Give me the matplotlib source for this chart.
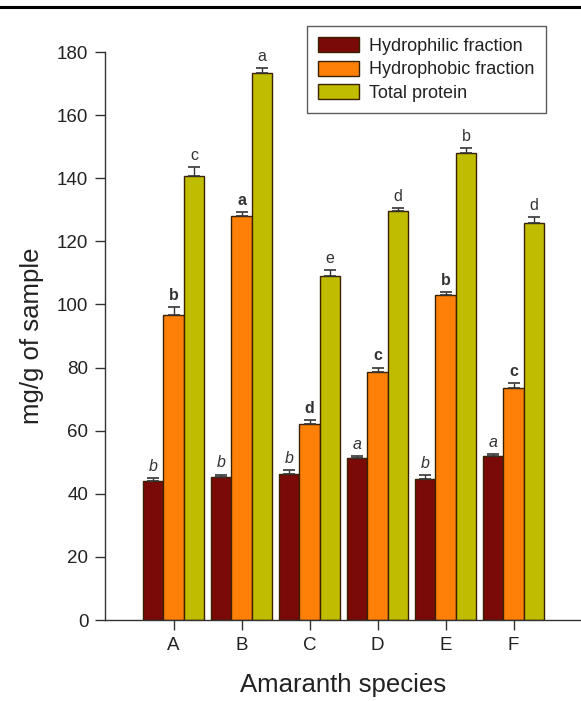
import matplotlib
matplotlib.use("Agg")
import matplotlib.pyplot as plt
from matplotlib.lines import Line2D
import numpy as np

species = ["A", "B", "C", "D", "E", "F"]
series_names = ["Hydrophilic fraction", "Hydrophobic fraction", "Total protein"]
hydrophilic = [44.0, 45.3, 46.4, 51.3, 44.8, 52.0]
hydrophilic_err = [1.0, 0.8, 1.0, 0.6, 1.2, 0.6]
hydrophobic = [96.6, 128.0, 62.0, 78.5, 103.0, 73.5]
hydrophobic_err = [2.5, 1.2, 1.5, 1.5, 1.0, 1.5]
total = [140.8, 173.4, 109.0, 129.6, 148.0, 125.8]
total_err = [2.8, 1.5, 2.0, 1.0, 1.5, 1.8]
letters_hydrophilic = ["b", "b", "b", "a", "b", "a"]
letters_hydrophobic = ["b", "a", "d", "c", "b", "c"]
letters_total = ["c", "a", "e", "d", "b", "d"]
yticks = [0, 20, 40, 60, 80, 100, 120, 140, 160, 180]

colors = ["#7a0a08", "#ff8008", "#c0bc00"]
edge = "#3a2200"
font = "Liberation Sans"

fig = plt.figure(figsize=(5.81, 7.01), dpi=100)
ax = fig.add_axes([0.1807, 0.1155, 0.8193, 0.8103])

x = np.arange(len(species))
w = 0.302
data = [(hydrophilic, hydrophilic_err, letters_hydrophilic, dict(style="italic")),
        (hydrophobic, hydrophobic_err, letters_hydrophobic, dict(weight="bold")),
        (total, total_err, letters_total, dict())]
for i, (vals, errs, labs, fkw) in enumerate(data):
    pos = x + (i - 1) * w
    ax.bar(pos, vals, width=w, color=colors[i], edgecolor=edge, linewidth=1.0,
           label=series_names[i], zorder=2)
    ax.errorbar(pos, vals, yerr=[np.zeros(len(vals)), errs], fmt="none",
                ecolor="#333333", elinewidth=1.0, capsize=4, capthick=1.2, zorder=3)
    for p, v, e, l in zip(pos, vals, errs, labs):
        ax.text(p, v + e + 1.3, l, ha="center", va="bottom", fontsize=11.5,
                color="#333333", family=font, **fkw)

ax.set_xlim(-1.01, 5.99)
ax.set_ylim(0, 180)
ax.set_yticks(yticks)
ax.set_xticks(x)
ax.set_xticklabels(species)
for s in ["top", "right"]:
    ax.spines[s].set_visible(False)
for s in ["left", "bottom"]:
    ax.spines[s].set_color("#333333")
    ax.spines[s].set_linewidth(1.0)
ax.tick_params(axis="both", direction="out", length=7, width=1.0, color="#333333",
               labelsize=13.5, labelcolor="#222222", pad=5)
for lab in ax.get_xticklabels() + ax.get_yticklabels():
    lab.set_family(font)
ax.set_ylabel("mg/g of sample", fontsize=18.5, family=font, color="#222222")
ax.set_xlabel("Amaranth species", fontsize=18.5, family=font, color="#222222")
ax.yaxis.set_label_coords(-0.128, 0.5)
ax.xaxis.set_label_coords(0.5, -0.093)

leg = ax.legend(loc="upper left", bbox_to_anchor=(307 / 581, 1 - 26 / 701),
                bbox_transform=fig.transFigure, frameon=True, fancybox=False,
                borderaxespad=0.0,
                prop=dict(family=font, size=13), handlelength=2.3,
                handleheight=0.9, labelspacing=0.33, borderpad=0.6, handletextpad=0.55)
leg.get_frame().set_edgecolor("#333333")
leg.get_frame().set_linewidth(1.0)
for t in leg.get_texts():
    t.set_color("#222222")

fig.add_artist(Line2D([0, 1], [1 - 7 / 701, 1 - 7 / 701], transform=fig.transFigure,
                      color="black", linewidth=2.2))

fig.savefig("out.png", dpi=100)
